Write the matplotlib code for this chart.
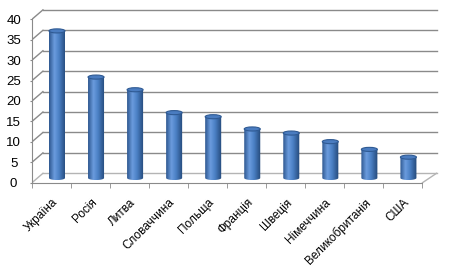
import numpy as np
import matplotlib
matplotlib.use("Agg")
import matplotlib.pyplot as plt
from matplotlib.colors import LinearSegmentedColormap
from matplotlib.patches import Ellipse, Polygon

plt.rcParams.update({"font.family": ["Liberation Sans", "DejaVu Sans"], "font.size": 8.5})

# дані
countries = ["Україна", "Росія", "Литва", "Словаччина", "Польща",
             "Франція", "Швеція", "Німеччина", "Великобританія", "США"]
values = [36, 24.7, 21.6, 16, 15, 12, 11, 8.9, 7, 5.1]
y_ticks = list(range(0, 45, 5))

# псевдо-3D: зсув задньої стінки та середини глибини (в одиницях даних)
dx_l, dx_r, dy_b = 0.28, 0.36, 2.3
dx_m, dy_m = 0.14, 1.15
hw, eh = 0.205, 0.5
grid_c = "#8a8a8a"
floor_c = "#b4b4b4"

cmap = LinearSegmentedColormap.from_list(
    "cyl", [(0, "#2e5790"), (0.32, "#6b9cde"), (0.6, "#4a7fc4"), (1, "#244878")])

fig = plt.figure(figsize=(4.57, 2.66), dpi=100)
ax = fig.add_axes([32 / 457, 83.3 / 266, 410 / 457, 175.7 / 266])

xb0, xb1 = -0.5 + dx_l, len(countries) - 0.5 + dx_r
for v in y_ticks:
    c = floor_c if v == 0 else grid_c
    ax.plot([xb0, xb1], [v + dy_b, v + dy_b], color=c, lw=1, zorder=1)
    ax.plot([-0.5, xb0], [v, v + dy_b], color=c, lw=1, zorder=1)
ax.plot([len(countries) - 0.5, xb1], [0, dy_b], color=floor_c, lw=1, zorder=1)

grad = np.linspace(0, 1, 64)[None, :]
for i, v in enumerate(values):
    cx = i + dx_m
    t = np.linspace(np.pi, 2 * np.pi, 40)
    pts = np.column_stack([cx + hw * np.cos(t), dy_m + eh * np.sin(t)])
    pts = np.vstack([[cx - hw, dy_m + v], pts, [cx + hw, dy_m + v]])
    body = Polygon(pts, closed=True, facecolor="none", edgecolor="none")
    ax.add_patch(body)
    im = ax.imshow(grad, cmap=cmap, extent=(cx - hw, cx + hw, dy_m - eh, dy_m + v),
                   aspect="auto", interpolation="bilinear", zorder=3)
    im.set_clip_path(body)
    ax.add_patch(Ellipse((cx, dy_m + v), 2 * hw, 2 * eh, facecolor="#4a7cc0",
                         edgecolor="#2f5a93", lw=0.8, zorder=4))

ax.set_xlim(-0.5, 10.0)
ax.set_ylim(0, 43)

for s in ["top", "right"]:
    ax.spines[s].set_visible(False)
ax.spines["bottom"].set_bounds(-0.5, len(countries) - 0.5)
ax.spines["left"].set_bounds(0, 40)
for s in ["bottom", "left"]:
    ax.spines[s].set_color(grid_c)

ax.set_xticks(range(len(countries)))
ax.set_xticklabels(countries, rotation=45, ha="right", rotation_mode="anchor")
ax.set_xticks(np.arange(-0.5, len(countries), 1), minor=True)
ax.tick_params(axis="x", which="major", length=0, pad=10)
ax.tick_params(axis="x", which="minor", length=3.5, color=grid_c)
ax.set_yticks(y_ticks)
ax.tick_params(axis="y", length=1.5, color=grid_c, pad=11.7, labelsize=9.5)
for lab in ax.get_yticklabels():
    lab.set_horizontalalignment("center")

fig.savefig("out.png", dpi=100)
